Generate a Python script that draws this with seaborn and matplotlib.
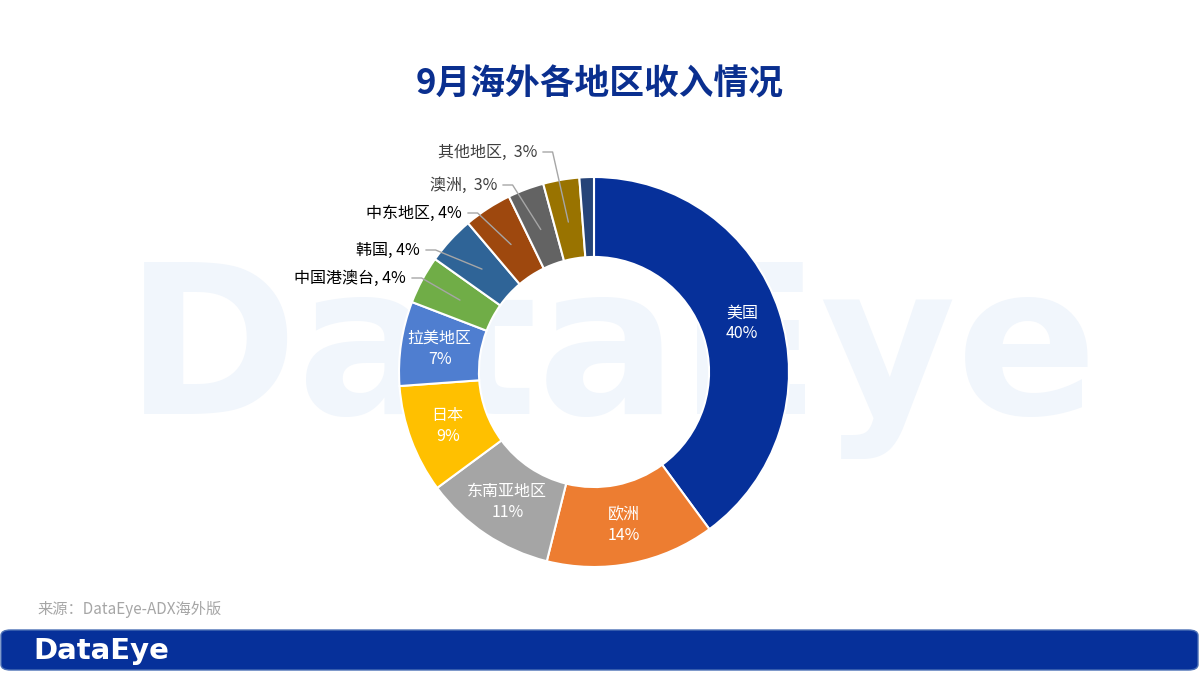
import matplotlib
matplotlib.use("Agg")
import matplotlib.pyplot as plt
import seaborn as sns
import numpy as np
from matplotlib.patches import FancyBboxPatch

sns.set_theme(style="white")
plt.rcParams['font.family'] = ['Noto Sans CJK SC', 'DejaVu Sans']

regions = ["美国", "欧洲", "东南亚地区", "日本", "拉美地区", "中国港澳台", "韩国", "中东地区", "澳洲", "其他地区", ""]
shares = [40, 14, 11, 9, 7, 4, 4, 4, 3, 3, 1.2]
labels = ["40%", "14%", "11%", "9%", "7%", "4%", "4%", "4%", "3%", "3%", ""]
colors = ["#06309A", "#ED7D31", "#A5A5A5", "#FFC000", "#4F7ED0", "#70AD47",
          "#2F6497", "#9E480E", "#636363", "#997300", "#264478"]
outside_text = ["", "", "", "", "", "中国港澳台, 4%", "韩国, 4%", "中东地区, 4%", "澳洲,  3%", "其他地区,  3%", ""]

fig = plt.figure(figsize=(12, 6.75), dpi=100)
fig.patch.set_facecolor("white")

# watermark
wm = fig.text(0.51, 0.47, "DataEye", fontsize=150, color="#F1F6FC", ha="center", va="center",
              family="DejaVu Sans", fontweight="bold")
wm.set_zorder(-5)

fig.text(0.5, 0.875, "9月海外各地区收入情况", fontsize=25, fontweight="bold",
         color="#0A2F8F", ha="center", va="center")

ax = fig.add_axes([(594 - 195) / 1200, (675 - 372 - 195) / 675, 390 / 1200, 390 / 675])
ax.patch.set_alpha(0)
wedges, _ = ax.pie(shares, colors=colors, startangle=90, counterclock=False,
                   wedgeprops=dict(width=0.41, edgecolor="white", linewidth=1.5))
ax.set_xlim(-1, 1); ax.set_ylim(-1, 1); ax.set_aspect("equal"); ax.axis("off")

text_pos = {5: (406, 278), 6: (420, 250), 7: (462, 213), 8: (497, 185), 9: (537, 152)}
for i, w in enumerate(wedges):
    mid = np.deg2rad((w.theta1 + w.theta2) / 2)
    if i < 5:
        r = 0.80
        ax.text(r * np.cos(mid), r * np.sin(mid), f"{regions[i]}\n{labels[i]}", ha="center",
                va="center", color="white", fontsize=11.5, linespacing=1.3)
    elif i in text_pos:
        px, py = text_pos[i]
        tx, ty = (px - 594) / 195, (372 - py) / 195
        r = 0.78
        ex, ey = r * np.cos(mid), r * np.sin(mid)
        ax.plot([tx + 0.03, tx + 0.08, ex], [ty, ty, ey], color="#A6A6A6", lw=1, clip_on=False)
        ax.text(tx, ty, outside_text[i], ha="right", va="center", fontsize=11.5,
                color="black" if i in (5, 6, 7) else "#404040")

fig.text(37 / 1200, 1 - 610 / 675, "来源：DataEye-ADX海外版", fontsize=11, color="#A6A6A6",
         ha="left", va="center")

banner = FancyBboxPatch((1 / 1200, 5 / 675), 1197 / 1200, 40 / 675,
                        boxstyle="round,pad=0,rounding_size=0.008", transform=fig.transFigure,
                        facecolor="#06309A", edgecolor="#4A6FB5", lw=1)
fig.patches.append(banner)
fig.text(33 / 1200, 1 - 651 / 675, "DataEye", fontsize=21, fontweight="bold", color="white",
         ha="left", va="center", family="DejaVu Sans")

fig.savefig("out.png", dpi=100)
